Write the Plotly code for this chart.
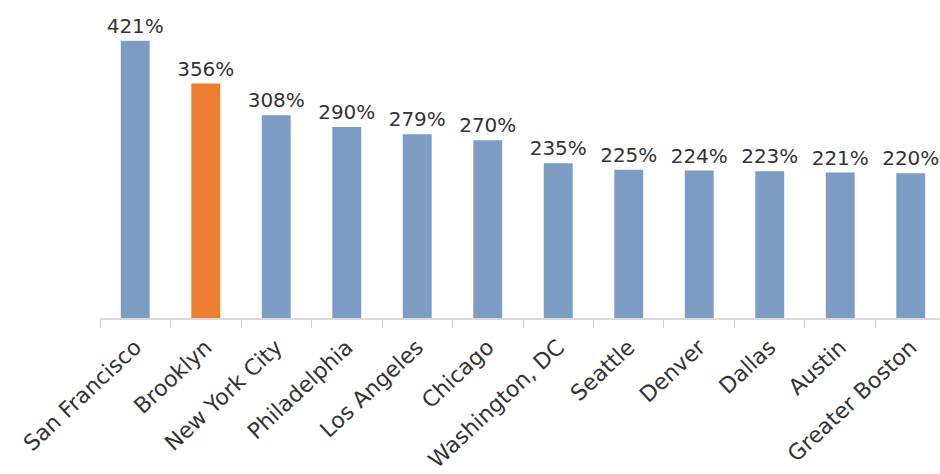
import plotly.graph_objects as go

cities = ["San Francisco", "Brooklyn", "New York City", "Philadelphia", "Los Angeles",
          "Chicago", "Washington, DC", "Seattle", "Denver", "Dallas", "Austin", "Greater Boston"]
values = [421, 356, 308, 290, 279, 270, 235, 225, 224, 223, 221, 220]
labels = [f"{v}%" for v in values]
highlight = "Brooklyn"

blue = "#7C9CC4"
orange = "#ED7D31"
colors = [orange if c == highlight else blue for c in cities]

fig = go.Figure(go.Bar(
    x=cities, y=values, text=labels, textposition="outside",
    constraintext="none",
    marker=dict(color=colors, line=dict(width=0)),
    textfont=dict(family="DejaVu Sans", size=20, color="#333333"),
    cliponaxis=False,
))

fig.update_layout(
    width=940, height=474,
    margin=dict(l=100, r=0, t=0, b=156, autoexpand=False),
    paper_bgcolor="white", plot_bgcolor="white",
    bargap=0.59,
    showlegend=False,
    font=dict(family="DejaVu Sans", size=20, color="#333333"),
)
fig.update_xaxes(
    range=[-0.5, 11.415],
    tickangle=-43,
    automargin=False,
    showline=True, linecolor="#D9D9D9", linewidth=1.5,
    ticks="outside", tickson="boundaries", ticklen=8, tickcolor="#D0D0D0",
    ticklabelstandoff=6,
    showgrid=False,
    tickfont=dict(family="DejaVu Sans", size=22, color="#333333"),
)
fig.update_yaxes(visible=False, range=[0, 483], showgrid=False, automargin=False)

fig.write_html(
    "out.html",
    config={"displayModeBar": False},
    post_script="document.body.style.margin='0';document.body.style.overflow='hidden';",
)
